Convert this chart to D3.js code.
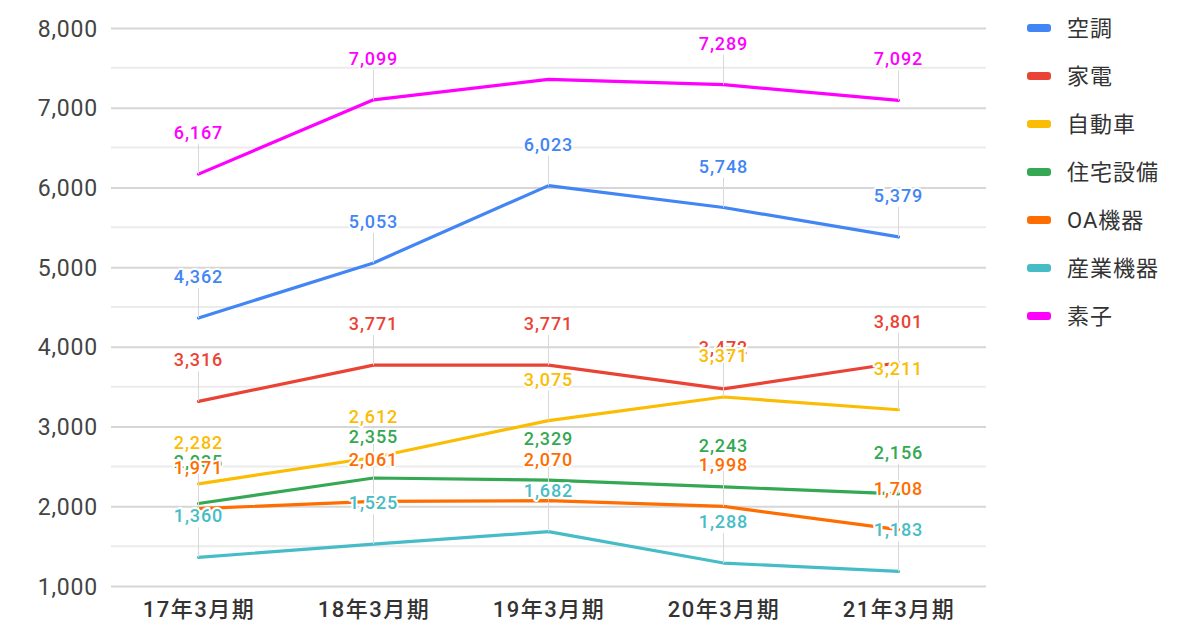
<!DOCTYPE html>
<html>
<head>
<meta charset="utf-8">
<script src="https://cdn.jsdelivr.net/npm/d3@7"></script>
<style>
  html, body { margin: 0; padding: 0; background: #fff; }
  svg { display: block; }
  text { font-family: Roboto, "Noto Sans CJK JP", sans-serif; }
</style>
</head>
<body>
<svg id="chart" width="1200" height="628"></svg>
<script>
// ---- data ----
const categories = ["17年3月期", "18年3月期", "19年3月期", "20年3月期", "21年3月期"];
const seriesNames = ["空調", "家電", "自動車", "住宅設備", "OA機器", "産業機器", "素子"];
const seriesColors = ["#4285f4", "#ea4335", "#fbbc04", "#34a853", "#ff6d01", "#46bdc6", "#ff00ff"];
const valuesAC       = [4362, 5053, 6023, 5748, 5379];
const valuesHome     = [3316, 3771, 3771, 3472, 3801];
const valuesAuto     = [2282, 2612, 3075, 3371, 3211];
const valuesHousing  = [2035, 2355, 2329, 2243, 2156];
const valuesOA       = [1971, 2061, 2070, 1998, 1708];
const valuesIndustry = [1360, 1525, 1682, 1288, 1183];
const valuesDevice   = [6167, 7099, 7355, 7289, 7092];
const yTicks = [1000, 2000, 3000, 4000, 5000, 6000, 7000, 8000];
const yMinorTicks = [1500, 2500, 3500, 4500, 5500, 6500, 7500];
// labels not displayed in the original (series name, category index)
const hiddenLabels = [["素子", 2]];

const allValues = [valuesAC, valuesHome, valuesAuto, valuesHousing, valuesOA, valuesIndustry, valuesDevice];
const series = seriesNames.map((name, i) => ({
  name, color: seriesColors[i],
  points: categories.map((c, j) => ({ cat: c, idx: j, value: allValues[i][j] }))
}));

// ---- layout ----
const svg = d3.select("#chart");
const x = d3.scalePoint().domain(categories).range([111, 986]).padding(0.5);
const y = d3.scaleLinear().domain([1000, 8000]).range([586, 28]);

// minor gridlines
svg.append("g").selectAll("line").data(yMinorTicks).join("line")
  .attr("x1", 111).attr("x2", 986)
  .attr("y1", d => y(d)).attr("y2", d => y(d))
  .attr("stroke", "#ebebeb").attr("stroke-width", 2);

// major gridlines via axis
const yAxis = d3.axisLeft(y).tickValues(yTicks).tickSize(-(986 - 111)).tickPadding(13)
  .tickFormat(d3.format(","));
const gy = svg.append("g").attr("transform", "translate(111,0)").call(yAxis);
gy.select(".domain").remove();
gy.selectAll(".tick line").attr("stroke", "#d6d6d6").attr("stroke-width", 2);
gy.selectAll(".tick text").attr("fill", "#444").attr("font-size", 23)
  .attr("letter-spacing", "0.8px")
  .attr("font-family", "Roboto, sans-serif").attr("dy", "0.35em");

// x axis labels
const xAxis = d3.axisBottom(x).tickSize(0).tickPadding(0);
const gx = svg.append("g").attr("transform", "translate(0,597)").call(xAxis);
gx.select(".domain").remove();
gx.selectAll(".tick text").attr("fill", "#333").attr("font-size", 22)
  .attr("letter-spacing", "1.5px")
  .attr("font-family", "Roboto, 'Noto Sans CJK JP', sans-serif").attr("dy", "0.9em")
  .attr("font-weight", 500);

// lines
const line = d3.line().x(d => x(d.cat)).y(d => y(d.value));
svg.append("g").selectAll("path").data(series).join("path")
  .attr("d", d => line(d.points))
  .attr("fill", "none").attr("stroke", d => d.color)
  .attr("stroke-width", 3.2).attr("stroke-linejoin", "round").attr("stroke-linecap", "round");

// leader lines + data labels
const isHidden = (s, p) => hiddenLabels.some(h => h[0] === s.name && h[1] === p.idx);
const labelData = [];
series.forEach(s => s.points.forEach(p => { if (!isHidden(s, p)) labelData.push({ s, p }); }));

svg.append("g").selectAll("line").data(labelData).join("line")
  .attr("x1", d => x(d.p.cat)).attr("x2", d => x(d.p.cat))
  .attr("y1", d => y(d.p.value) - 30).attr("y2", d => y(d.p.value))
  .attr("stroke", "#d8d8d8").attr("stroke-width", 1);

svg.append("g").selectAll("text").data(labelData).join("text")
  .attr("x", d => x(d.p.cat)).attr("y", d => y(d.p.value) - 35)
  .attr("text-anchor", "middle")
  .attr("font-size", 18).attr("font-weight", 500).attr("letter-spacing", "0.9px")
  .attr("fill", d => d.s.color)
  .attr("stroke", "#fff").attr("stroke-width", 4).attr("paint-order", "stroke")
  .attr("stroke-linejoin", "round")
  .text(d => d3.format(",")(d.p.value));

// legend
const legend = svg.append("g").selectAll("g").data(series).join("g")
  .attr("transform", (d, i) => `translate(1027,${28 + i * 48})`);
legend.append("rect").attr("x", 0).attr("y", -4).attr("width", 24).attr("height", 8)
  .attr("rx", 3).attr("fill", d => d.color);
legend.append("text").attr("x", 40).attr("dy", "0.35em")
  .attr("font-size", 22).attr("fill", "#333").attr("letter-spacing", "1px")
  .attr("font-family", "'Noto Sans CJK JP', sans-serif")
  .text(d => d.name);
</script>
</body>
</html>
